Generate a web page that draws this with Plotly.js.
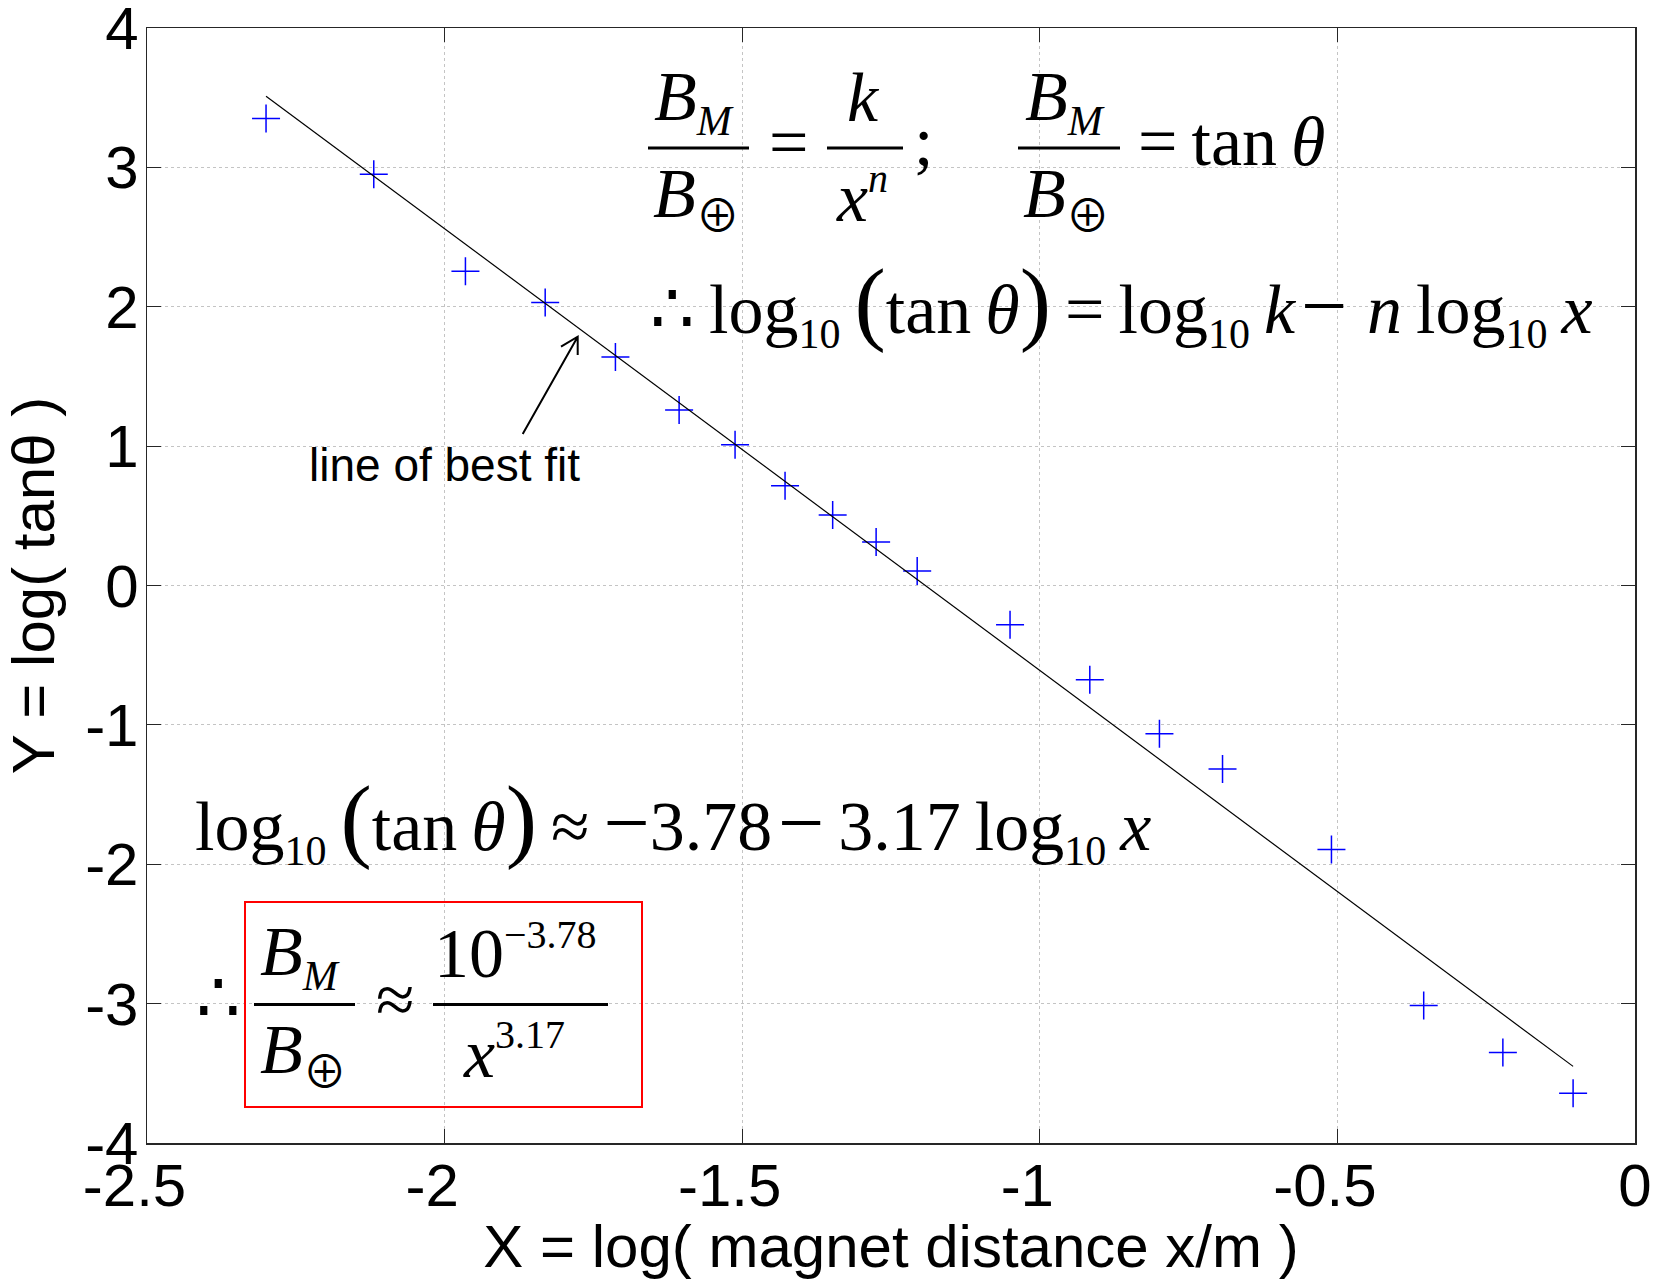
<!DOCTYPE html>
<html>
<head>
<meta charset="utf-8">
<script src="https://cdn.plot.ly/plotly-3.0.1.min.js"></script>
<style>
  html, body { margin: 0; padding: 0; background: #ffffff; }
  #chart { width: 1663px; height: 1280px; }
</style>
</head>
<body>
<div id="chart"></div>
<script>
// Measured points: X = log10(magnet distance / m), Y = log10(tan theta)
const logDistance = [-2.300, -2.119, -1.965, -1.831, -1.713, -1.606, -1.512, -1.428, -1.348,
                     -1.275, -1.206, -1.050, -0.916, -0.799, -0.693, -0.510, -0.355, -0.222, -0.104];
const logTan      = [ 3.350,  2.950,  2.255,  2.030,  1.640,  1.260,  1.010,  0.715,  0.506,
                      0.312,  0.104, -0.282, -0.677, -1.064, -1.317, -1.895, -3.014, -3.350, -3.643];

// Straight-line fit  Y = a + b X
const fitIntercept = -3.78;
const fitSlope = -3.17;
const fitRange = [-2.300, -0.104];

// Axis ticks
const xTicks = [-2.5, -2, -1.5, -1, -0.5, 0];
const xTickText = ['-2.5', '-2', '-1.5', '-1', '-0.5', '0'];
const yTicks = [-4, -3, -2, -1, 0, 1, 2, 3, 4];
const yTickText = ['-4', '-3', '-2', '-1', '0', '1', '2', '3', '4'];

const W = 1663, H = 1280;
const M = { l: 147, r: 28, t: 28, b: 137 };
const PW = W - M.l - M.r, PH = H - M.t - M.b;
// pixel position on the page -> paper fraction
const px = v => (v - M.l) / PW;
const py = v => (H - M.b - v) / PH;

const sans = '"Liberation Sans", Arial, Helvetica, sans-serif';
const serif = '"Liberation Serif", "Times New Roman", serif';

const SUB = s => `<sub><span style="font-size:42px">${s}</span></sub>`;
const SUP = s => `<sup><span style="font-size:40px">${s}</span></sup>`;
const BIG = s => `<span style="font-size:94px">${s}</span>`;
const EARTH = '<span style="font-size:44px;font-family:\'Noto Sans CJK JP\'">\u2295</span>';
const MINUS = '<span style="font-size:82px">\u2212</span>';
const TS = '\u2009';   // thin space
const HS = '\u200A';   // hair space

// negative tick labels sit slightly left of their tick
const padNeg = s => (s.charAt(0) === '-' ? s + '\u2005\u2006' : s);

function txt(text, xPx, bottomPx, xanchor, size, family) {
  return {
    xref: 'paper', yref: 'paper', x: px(xPx), y: py(bottomPx),
    xanchor: xanchor, yanchor: 'bottom', text: text, showarrow: false,
    borderpad: 0, font: { family: family || serif, size: size || 70, color: '#000000' }
  };
}

const BM = `<i>B</i>${SUB('<i>M</i>')}`;
const BE = `<i>B</i><sub>${EARTH}</sub>`;

const annotations = [
  // B_M / B_earth = k / x^n ;   B_M / B_earth = tan θ
  txt(BM, 694, 145, 'center'),
  txt(BE, 696, 246, 'center'),
  txt('=', 788.5, 181.5, 'center'),
  txt('<i>k</i>', 863, 137, 'center'),
  txt(`<i>x</i>${SUP('<i>n</i>')}`, 861.5, 237, 'center'),
  txt(';', 913, 181, 'left'),
  txt(BM, 1065, 145, 'center'),
  txt(BE, 1066, 246, 'center'),
  txt(`=${TS}tan${TS}<i>θ</i>`, 1137, 181, 'left'),
  // ∴ log10(tan θ) = log10 k − n log10 x
  txt(`∴${TS}log${SUB('10')}${TS}${BIG('(')}tan${TS}<i>θ</i>${BIG(')')}${TS}=${TS}log${SUB('10')}${TS}<i>k</i>${HS}${MINUS}${TS}${HS}<i>n</i>${TS}log${SUB('10')}${TS}<i>x</i>`,
      649, 358, 'left'),
  // fitted relation
  txt(`log${SUB('10')}${TS}${BIG('(')}tan${TS}<i>θ</i>${BIG(')')}${TS}≈${TS}${MINUS}3.78${HS}${MINUS}${TS}3.17${TS}log${SUB('10')}${TS}<i>x</i>`,
      194, 875, 'left'),
  // boxed result
  txt('∴', 218, 1038, 'center'),
  txt(BM, 300, 1000, 'center'),
  txt(BE, 303, 1102, 'center'),
  txt('≈', 395, 1039, 'center'),
  txt(`10${SUP('−3.78')}`, 433, 993, 'left'),
  txt(`<i>x</i>${SUP('3.17')}`, 462, 1093, 'left'),
  // arrow label
  txt('line of best fit', 444.5, 492, 'center', 46, sans)
];

function hbar(x0, x1, y) {
  return { type: 'line', xref: 'paper', yref: 'paper', x0: px(x0), x1: px(x1), y0: py(y), y1: py(y),
           line: { color: '#000000', width: 3 } };
}
function pp(x, y) { return `${px(x)},${py(y)}`; }

const shapes = [
  hbar(648, 749, 148),
  hbar(827, 903, 148),
  hbar(1018, 1120, 148),
  hbar(254, 355, 1004.5),
  hbar(433, 608, 1004.5),
  // red frame round the final result
  { type: 'rect', xref: 'paper', yref: 'paper', x0: px(245), x1: px(642), y0: py(1107), y1: py(902),
    line: { color: '#ff0000', width: 2 }, fillcolor: 'rgba(0,0,0,0)' },
  // arrow pointing at the fitted line
  { type: 'path', xref: 'paper', yref: 'paper',
    path: `M${pp(522.7, 434)} L${pp(577.7, 336.7)} M${pp(561, 346.7)} L${pp(577.7, 336.7)} L${pp(577.7, 355)}`,
    line: { color: '#000000', width: 2 } }
];

const fitY = fitRange.map(x => fitIntercept + fitSlope * x);

const traces = [
  {
    x: logDistance, y: logTan, type: 'scatter', mode: 'markers', name: 'data',
    marker: { symbol: 'cross-thin', size: 20, color: '#0000ff', line: { color: '#0000ff', width: 1.5 } },
    hoverinfo: 'x+y'
  },
  {
    x: fitRange, y: fitY, type: 'scatter', mode: 'lines', name: 'fit',
    line: { color: '#000000', width: 1.2 }
  }
];

const axisCommon = {
  ticks: 'inside', ticklen: 14, tickwidth: 1, tickcolor: '#262626',
  showline: true, linecolor: '#262626', linewidth: 1.5, mirror: 'ticks',
  showgrid: true, gridcolor: '#c4c4c4', griddash: 'dot', gridwidth: 1,
  zeroline: false, tickmode: 'array', ticklabeloverflow: 'allow',
  tickfont: { family: sans, size: 60, color: '#000000' }
};

const layout = {
  width: W, height: H,
  margin: M,
  paper_bgcolor: '#ffffff', plot_bgcolor: '#ffffff',
  showlegend: false,
  font: { family: sans, color: '#000000' },
  xaxis: Object.assign({}, axisCommon, {
    range: [-2.5, 0], tickvals: xTicks, ticktext: xTickText.map(padNeg), ticklabelstandoff: -11,
    title: { text: 'X = log( magnet distance x/m )', font: { family: sans, size: 60, color: '#000000' }, standoff: 24 }
  }),
  yaxis: Object.assign({}, axisCommon, {
    range: [-4, 4], tickvals: yTicks, ticktext: yTickText, ticklabelstandoff: -5,
    title: { text: 'Y = log( tanθ )', font: { family: sans, size: 60, color: '#000000' }, standoff: 11 }
  }),
  annotations: annotations,
  shapes: shapes
};

Plotly.newPlot('chart', traces, layout, { staticPlot: true, displayModeBar: false });
</script>
</body>
</html>
